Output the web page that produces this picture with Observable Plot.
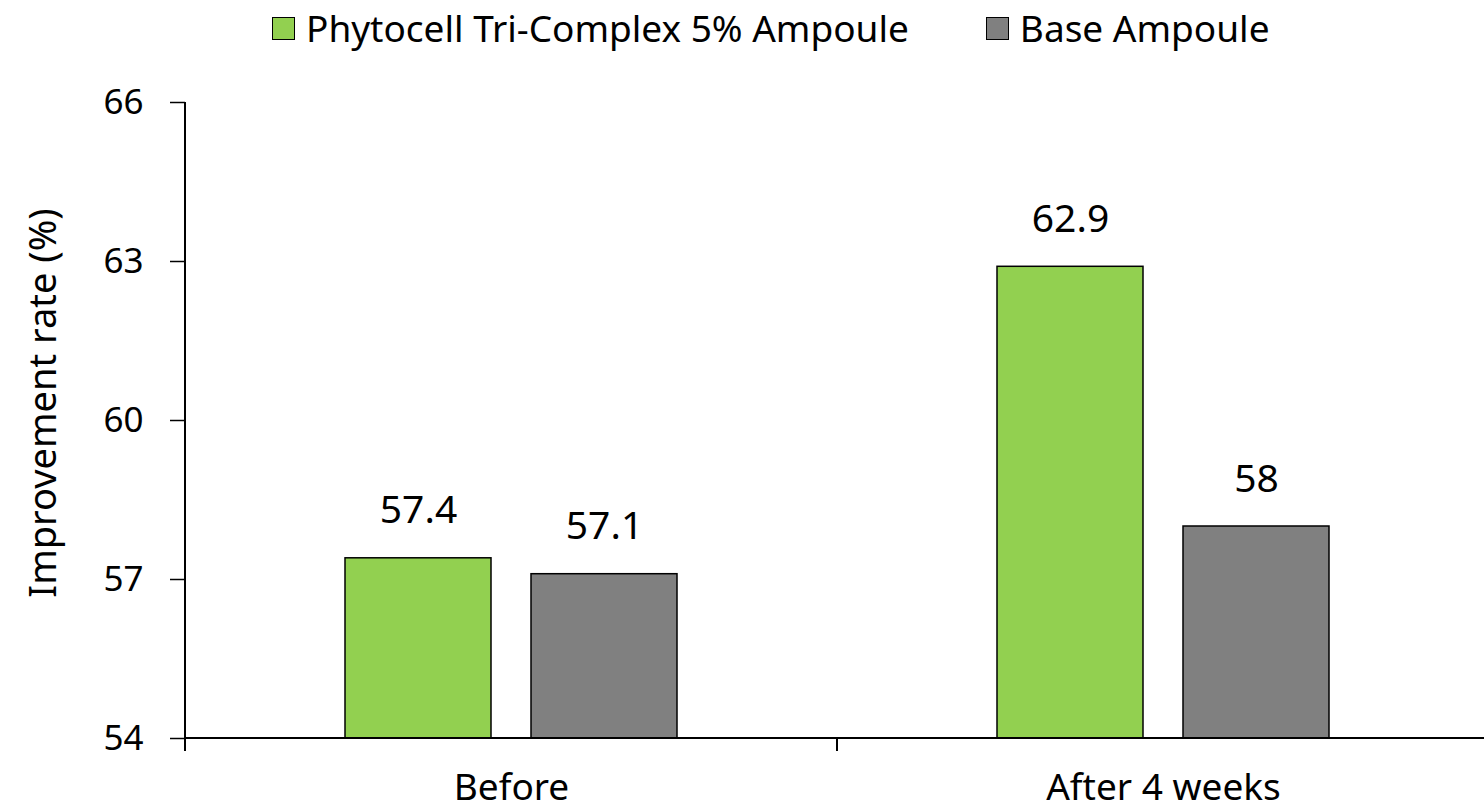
<!DOCTYPE html>
<html><head><meta charset="utf-8">
<script src="https://cdn.jsdelivr.net/npm/d3@7"></script>
<script src="https://cdn.jsdelivr.net/npm/@observablehq/plot@0.6"></script>
<style>
body{margin:0;background:#fff;font-family:"Noto Sans",sans-serif;color:#000}
#wrap{position:relative;width:1484px;height:811px;overflow:hidden}
#wrap svg{max-width:none !important;display:block}
#legend{position:absolute;top:4px;left:272px;display:flex;align-items:center;font-size:37px;line-height:48px;white-space:nowrap;z-index:1}
.item{display:flex;align-items:center}
.sw{width:23px;height:23px;border:1.5px solid #000;margin-right:11px;box-sizing:border-box}
</style></head>
<body>
<div id="wrap"><div id="legend"></div></div>
<script>
const categories = ["Before", "After 4 weeks"];
const series = ["Phytocell Tri-Complex 5% Ampoule", "Base Ampoule"];
const phytocell = [57.4, 62.9];
const base = [57.1, 58];
const yTicks = [54, 57, 60, 63, 66];
const colors = ["#92D050", "#808080"];
const yLabel = "Improvement rate (%)";

const data = categories.flatMap((c, i) => [
  {cat: c, series: series[0], value: phytocell[i]},
  {cat: c, series: series[1], value: base[i]}
]);
const yMin = yTicks[0], yMax = yTicks[yTicks.length - 1];

const plot = Plot.plot({
  width: 1489, height: 811,
  marginLeft: 185, marginRight: 0, marginTop: 102, marginBottom: 73,
  style: {fontFamily: "'Noto Sans', sans-serif", color: "#000", background: "#fff", maxWidth: "none"},
  fx: {domain: categories, padding: 0, label: null},
  x: {domain: series, paddingInner: 0.215, paddingOuter: 0.86, axis: null},
  y: {domain: [yMin, yMax], ticks: yTicks, label: null},
  color: {domain: series, range: colors},
  marks: [
    Plot.axisY({ticks: yTicks, tickSize: 15, tickPadding: 27, fontSize: 35, strokeWidth: 1.5, label: null}),
    Plot.axisFx({anchor: "bottom", tickSize: 0, tickPadding: 35, fontSize: 37, label: null}),
    Plot.barY(data, {fx: "cat", x: "series", y1: () => yMin, y2: "value", fill: "series", stroke: "#000", strokeWidth: 1.5}),
    Plot.text(data, {fx: "cat", x: "series", y: "value", text: d => String(d.value), dy: -35, lineAnchor: "bottom", fontSize: 39})
  ]
});

const wrap = document.getElementById("wrap");
wrap.appendChild(plot);

// legend
const legend = document.getElementById("legend");
series.forEach((s, i) => {
  const it = document.createElement("div");
  it.className = "item";
  if (i > 0) it.style.marginLeft = "77px";
  const sw = document.createElement("div");
  sw.className = "sw";
  sw.style.background = colors[i];
  const t = document.createElement("span");
  t.textContent = s;
  it.appendChild(sw); it.appendChild(t);
  legend.appendChild(it);
});

// axis lines and category boundary ticks
const ys = plot.scale("y"), fxs = plot.scale("fx");
const y = d3.scaleLinear(ys.domain, ys.range);
const fx = d3.scaleBand(fxs.domain, fxs.range).padding(0);
const svg = d3.select(plot);
const g = svg.append("g").attr("stroke", "#000").attr("stroke-width", 2);
const x0 = fx.range()[0];
g.append("line").attr("x1", x0).attr("x2", x0).attr("y1", y(yMax)).attr("y2", y(yMin) + 13);
g.append("line").attr("x1", x0).attr("x2", fx.range()[1]).attr("y1", y(yMin)).attr("y2", y(yMin));
categories.slice(1).forEach(c => {
  g.append("line").attr("x1", fx(c)).attr("x2", fx(c)).attr("y1", y(yMin)).attr("y2", y(yMin) + 13);
});
svg.append("text")
  .attr("transform", `translate(46,${(y(yMin) + y(yMax)) / 2 - 17}) rotate(-90)`)
  .attr("text-anchor", "middle").attr("dominant-baseline", "middle")
  .attr("font-size", 38).attr("fill", "#000")
  .text(yLabel);
</script>
</body></html>
